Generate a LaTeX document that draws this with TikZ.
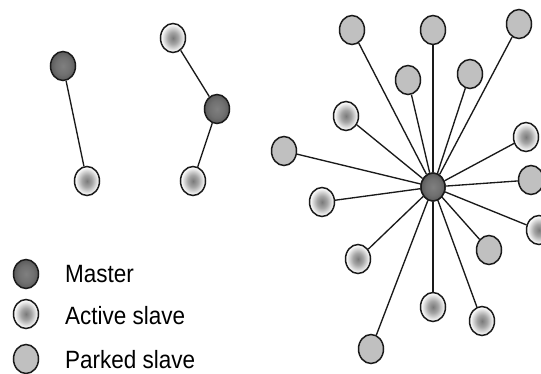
\documentclass[tikz,border=0pt]{standalone}
\usepackage{fontspec}
\setmainfont{Liberation Sans}
\usepackage{graphicx}
\usetikzlibrary{shapes.geometric}
\definecolor{parkfill}{HTML}{C0C0C0}
\definecolor{edgecol}{HTML}{1A1A1A}
\pgfdeclareradialshading{mastershade}{\pgfpoint{0bp}{0bp}}{color(0bp)=(black!50); color(15bp)=(black!56); color(32bp)=(black!70); color(50bp)=(black!85)}
\pgfdeclareradialshading{activeshade}{\pgfpoint{0bp}{0bp}}{color(0bp)=(black!52); color(10bp)=(black!36); color(24bp)=(white); color(50bp)=(white)}
\begin{document}
\begin{tikzpicture}[x=1pt,y=-1pt,
  dev/.style={ellipse, draw=edgecol, line width=1.5pt, minimum width=25pt, minimum height=29pt, inner sep=0pt},
  master/.style={dev, shading=mastershade},
  active/.style={dev, shading=activeshade},
  parked/.style={dev, fill=parkfill},
  hub/.style={master, minimum width=24pt, minimum height=28pt},
  link/.style={draw=edgecol, line width=1.35pt},
  legtext/.style={anchor=base west, inner sep=0pt, font=\fontsize{25}{25}\selectfont}]
\useasboundingbox (0,0) rectangle (541,374);
\clip (0,0) rectangle (541,374);
% left piconets
\node[master] (m1) at (63,66) {};
\node[active] (a1) at (87,181) {};
\node[active] (a2) at (173,38) {};
\node[master] (m2) at (217,109) {};
\node[active] (a3) at (193,181) {};
\draw[link] (m1) -- (a1);
\draw[link] (a2) -- (m2);
\draw[link] (m2) -- (a3);
% star
\node[hub] (h) at (433,187) {};
\node[parked] (p1) at (352,30) {};
\node[parked] (p2) at (433,30) {};
\node[parked] (p3) at (519,24) {};
\node[parked] (p4) at (408,80) {};
\node[parked] (p5) at (470,74) {};
\node[active] (s4) at (346,116) {};
\node[parked] (p6) at (284,151) {};
\node[active] (s5) at (526,137) {};
\node[parked] (p7) at (531,180) {};
\node[active] (s6) at (322,202) {};
\node[active] (s7) at (539,230) {};
\node[active] (s8) at (358,259) {};
\node[parked] (p8) at (489,250) {};
\node[active] (s9) at (433,307) {};
\node[active] (s10) at (482,321) {};
\node[parked] (p9) at (371,349) {};
\foreach \n in {p1,p2,p3,p4,p5,s4,p6,s5,p7,s6,s7,s8,p8,s9,s10,p9}
  \draw[link] (h) -- (\n);
\node[hub] at (433,187) {};
% legend
\node[master] (lm) at (26,274) {};
\node[active] (la) at (26,314) {};
\node[parked] (lp) at (26,359) {};
\node[legtext] (tm) at (65,283) {\scalebox{0.9}[1]{Master}};
\node[legtext] (ta) at (65,324) {\scalebox{0.9}[1]{Active slave}};
\node[legtext] (tp) at (65,368) {\scalebox{0.9}[1]{Parked slave}};
\end{tikzpicture}
\end{document}
